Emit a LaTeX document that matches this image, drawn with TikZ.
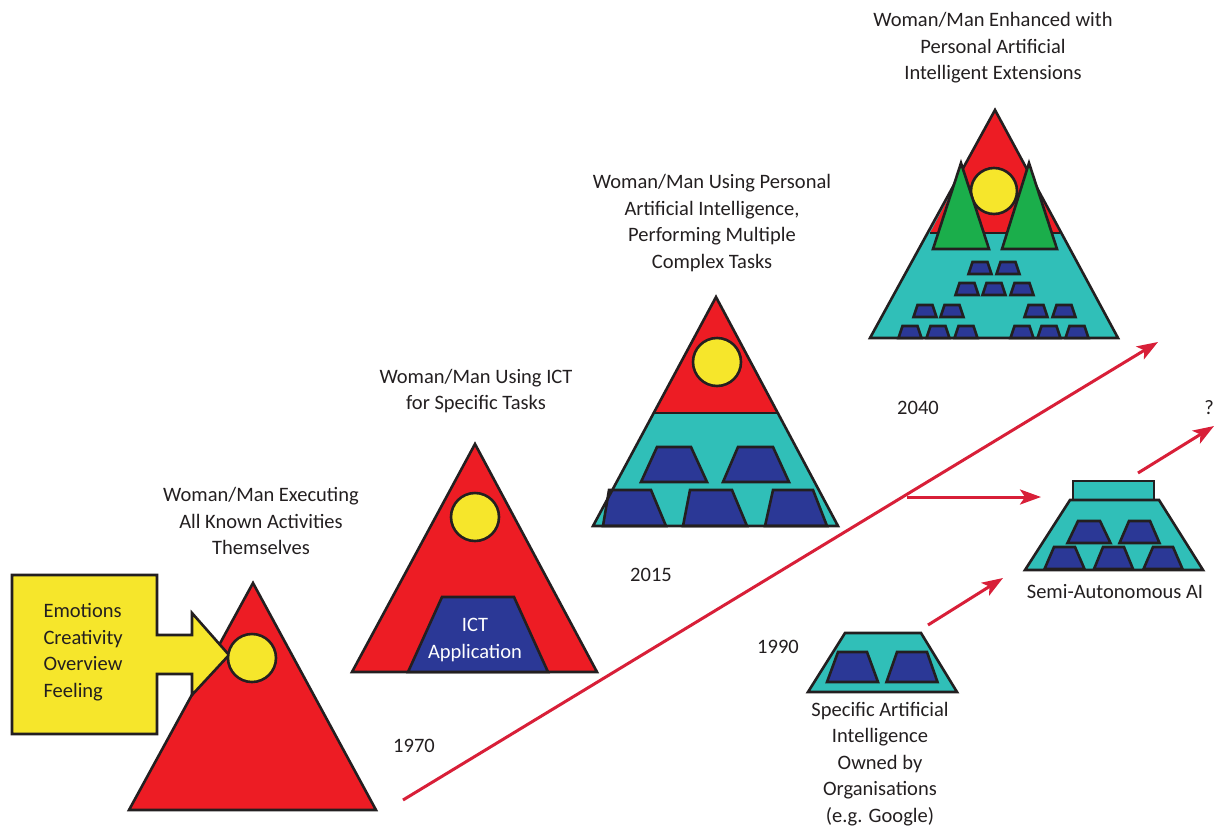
\documentclass[tikz,border=0pt]{standalone}
\usepackage{fontspec}
\setmainfont{Carlito}
\usetikzlibrary{arrows.meta}

\definecolor{inkc}{HTML}{231F20}
\definecolor{pyred}{HTML}{ED1C24}
\definecolor{sunyel}{HTML}{F6E62B}
\definecolor{aqua}{HTML}{30BFB8}
\definecolor{navy}{HTML}{2B3896}
\definecolor{leaf}{HTML}{1BAE4B}
\definecolor{arrred}{HTML}{D81F38}

% small trapezoid: centre x, top y, top half width, bottom half width, height
\newcommand\trap[5]{\draw[blk] ({#1-#3},#2) -- ({#1+#3},#2) -- ({#1+#4},{#2+#5}) -- ({#1-#4},{#2+#5}) -- cycle;}

\begin{document}
\begin{tikzpicture}[x=1pt,y=-1pt,
  line join=miter,
  edge/.style={draw=inkc,line width=2.6pt},
  blk/.style={edge,fill=navy},
  sun/.style={edge,fill=sunyel},
  lbl/.style={text=inkc,align=center,font=\fontsize{20.5}{26.5}\selectfont},
  yr/.style={text=inkc,font=\fontsize{20.5}{26.5}\selectfont},
  flow/.style={draw=arrred,line width=3pt,-{Stealth[length=21pt,width=15pt,inset=5pt]}}]
\useasboundingbox (0,0) rectangle (1215,830);

% 1970: woman/man on her own
\draw[edge,fill=pyred] (253,583) -- (376,810) -- (129,810) -- cycle;
\draw[edge,fill=sunyel] (12,575) -- (157,575) -- (157,635) -- (192,635) -- (192,613) -- (229,655)
  -- (192,695) -- (192,674) -- (157,674) -- (157,734) -- (12,734) -- cycle;
\draw[sun] (252,658) circle (24);
\node[lbl,align=left,anchor=west] (traits) at (40,652) {Emotions\\Creativity\\Overview\\Feeling};
\node[lbl] (self) at (261,521) {Woman/Man Executing\\All Known Activities\\Themselves};

% ICT
\draw[edge,fill=pyred] (475,444) -- (597,672) -- (352,672) -- cycle;
\draw[sun] (475,517) circle (24);
\draw[blk] (442,597) -- (514,597) -- (548,672) -- (408,672) -- cycle;
\node[lbl,text=white] (ictapp) at (475,640) {ICT\\Application};
\node[lbl] (ict) at (476,391) {Woman/Man Using ICT\\for Specific Tasks};

% 2015
\fill[aqua] (716,297) -- (838,526) -- (593,526) -- cycle;
\fill[pyred] (716,297) -- (778,413) -- (654,413) -- cycle;
\draw[blk] (657,447) -- (691,447) -- (707,482) -- (641,482) -- cycle;
\draw[blk] (738,447) -- (773,447) -- (789,482) -- (723,482) -- cycle;
\draw[blk] (609,490) -- (651,490) -- (666,526) -- (603,526) -- cycle;
\draw[blk] (690,490) -- (732,490) -- (747,526) -- (683,526) -- cycle;
\draw[blk] (773,490) -- (813,490) -- (827,526) -- (765,526) -- cycle;
\draw[edge] (716,297) -- (838,526) -- (593,526) -- cycle;
\draw[edge] (654,413) -- (778,413);
\draw[sun] (717,362) circle (24);
\node[lbl] (pai) at (712,223) {Woman/Man Using Personal\\Artificial Intelligence,\\Performing Multiple\\Complex Tasks};

% 2040
\fill[aqua] (995,110) -- (1118,338) -- (870,338) -- cycle;
\fill[pyred] (995,110) -- (1060,233) -- (930,233) -- cycle;
\draw[edge] (995,110) -- (1118,338) -- (870,338) -- cycle;
\draw[edge] (930,233) -- (1060,233);
\draw[sun] (994,191) circle (23);
\draw[edge,fill=leaf] (961,163) -- (989,249) -- (933,249) -- cycle;
\draw[edge,fill=leaf] (1029,163) -- (1057,249) -- (1002,249) -- cycle;
\foreach \cx/\ty in {980/262,1008/262,967/283,994/283,1022/283,
                     925/305,952/305,1036/305,1064/305,
                     910/326,938/326,966/326,1022/326,1049/326,1077/326}
  {\trap{\cx}{\ty}{7.5}{11.5}{12}}
\node[lbl] (ext) at (993,48) {Woman/Man Enhanced with\\Personal Artificial\\Intelligent Extensions};

% organisations' AI
\draw[edge,fill=aqua] (845,633) -- (921,633) -- (957,692) -- (808,692) -- cycle;
\trap{852.5}{652}{14.5}{25.5}{30}
\trap{912}{652}{15}{25.5}{30}
\node[lbl] (org) at (880,764) {Specific Artificial\\Intelligence\\Owned by\\Organisations\\(e.g. Google)};

% semi-autonomous AI
\draw[edge,fill=aqua] (1073,481) rectangle (1154,500);
\draw[edge,fill=aqua] (1070,500) -- (1159,500) -- (1203,570) -- (1025,570) -- cycle;
\trap{1089}{521}{11}{21.5}{22}
\trap{1139.5}{521}{10.5}{20}{22}
\trap{1064.5}{547}{10.5}{20}{22}
\trap{1113.5}{547}{10.5}{19.5}{22}
\trap{1163}{547}{10}{19.5}{22}
\node[lbl] (semi) at (1115,592) {Semi-Autonomous AI};

% years
\node[yr] (y1970) at (414,746) {1970};
\node[yr] (y1990) at (778,647) {1990};
\node[yr] (y2015) at (651,575) {2015};
\node[yr] (y2040) at (918,408) {2040};
\node[yr] (qmark) at (1209,408) {?};

% arrows
\coordinate (tStart) at (403,800);
\coordinate (tEnd) at (1158,342);
\coordinate (fork) at (907,497);
\coordinate (semiIn) at (1041,497);
\coordinate (orgOut) at (928,625);
\coordinate (orgTip) at (1003,578);
\coordinate (semiOut) at (1138,473);
\coordinate (qTip) at (1214,426);
\draw[flow] (tStart) -- (tEnd);
\draw[flow] (fork) -- (semiIn);
\draw[flow] (orgOut) -- (orgTip);
\draw[flow] (semiOut) -- (qTip);
\end{tikzpicture}
\end{document}
